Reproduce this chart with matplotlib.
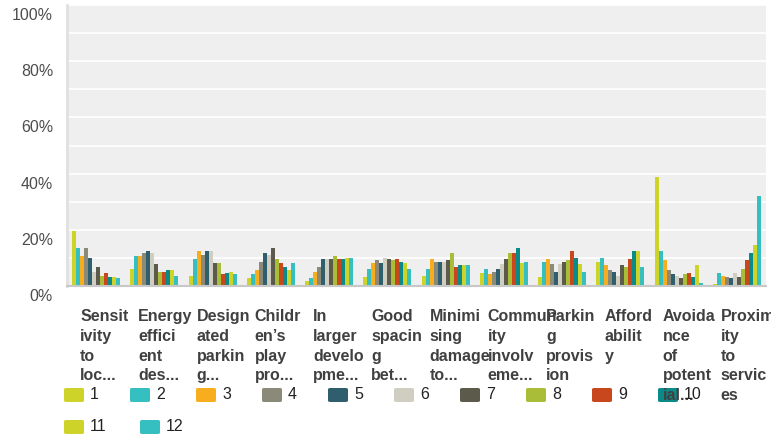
import numpy as np
import matplotlib
matplotlib.use("Agg")
import matplotlib.pyplot as plt
from matplotlib.patches import FancyBboxPatch
from matplotlib.transforms import ScaledTranslation

plt.rcParams['font.family'] = ['Liberation Sans', 'DejaVu Sans']

# category labels, wrapped/truncated the same way as the original export
categories = [
    "Sensit\nivity\nto\nloc...",
    "Energy\neffici\nent\ndes...",
    "Design\nated\nparkin\ng...",
    "Childr\nen\u2019s\nplay\npro...",
    "In\nlarger\ndevelo\npme...",
    "Good\nspacin\ng\nbet...",
    "Minimi\nsing\ndamage\nto...",
    "Commun\nity\ninvolv\neme...",
    "Parkin\ng\nprovis\nion",
    "Afford\nabilit\ny",
    "Avoida\nnce\nof\npotent\nial...",
    "Proxim\nity\nto\nservic\nes",
]

series_labels = ["1", "2", "3", "4", "5", "6", "7", "8", "9", "10", "11", "12"]

# percentage of responses per rating (one list per rating, in category order)
r1 = [19.7, 6.2, 3.7, 2.7, 1.9, 3.3, 3.7, 4.7, 3.3, 8.6, 38.7, 0.8]
r2 = [13.6, 10.8, 9.7, 4.4, 2.7, 6.2, 6.2, 6.2, 8.6, 10.1, 12.6, 4.7]
r3 = [10.8, 10.8, 12.3, 5.8, 5.1, 8.3, 9.7, 4.4, 9.7, 7.3, 9.4, 3.7]
r4 = [13.4, 11.9, 11.2, 8.6, 6.9, 9.4, 8.6, 5.1, 7.7, 5.8, 5.8, 3.3]
r5 = [10.1, 12.3, 12.3, 11.9, 9.7, 8.3, 8.6, 6.2, 5.1, 5.1, 4.4, 2.7]
r6 = [5.1, 11.9, 12.3, 11.2, 9.7, 10.1, 8.6, 7.7, 7.7, 3.7, 3.7, 4.7]
r7 = [6.9, 7.7, 8.3, 13.6, 9.7, 9.7, 9.4, 9.7, 8.6, 7.5, 2.7, 3.3]
r8 = [3.7, 5.1, 8.3, 9.7, 10.8, 9.4, 11.9, 11.9, 9.4, 6.9, 4.4, 6.2]
r9 = [4.7, 5.1, 4.4, 8.3, 9.7, 9.7, 6.9, 11.9, 12.6, 9.7, 4.7, 9.4]
r10 = [3.3, 5.8, 4.7, 6.9, 9.7, 8.6, 7.3, 13.4, 10.1, 12.3, 3.3, 11.9]
r11 = [3.3, 5.8, 5.1, 5.8, 10.1, 8.3, 7.5, 8.3, 7.7, 12.3, 7.3, 14.7]
r12 = [2.7, 3.7, 4.4, 8.3, 10.1, 6.2, 7.5, 8.6, 5.1, 6.9, 1.2, 31.9]
series_values = [r1, r2, r3, r4, r5, r6, r7, r8, r9, r10, r11, r12]

colors = ["#cdd328", "#35bfc0", "#f8ad1f", "#8b8a78", "#2f5f6d", "#d0cec0",
          "#5c5a4a", "#a9bd38", "#c9471d", "#0b8a8a", "#cdd328", "#35bfc0"]

W, H = 771, 439
fig = plt.figure(figsize=(W / 100, H / 100), dpi=100)
ax = fig.add_axes([67 / W, 1 - 287 / H, (766 - 67) / W, (287 - 6) / H])
ax.set_facecolor("#efefef")
ax.set_zorder(3)

x = np.arange(len(categories))
n = len(series_values)
bw = 0.0686
for k, vals in enumerate(series_values):
    ax.bar(x + (k - (n - 1) / 2) * bw, vals, width=bw, color=colors[k],
           linewidth=0, zorder=3)

ax.set_xlim(-0.5, len(categories) - 0.5)
ax.set_ylim(0, 100)
ax.set_yticks(np.arange(0, 101, 10))
ax.set_yticklabels([f"{v}%" if v % 20 == 0 else "" for v in range(0, 101, 10)],
                   fontsize=11.5, color="#4d4d4d")
ax.tick_params(axis="y", length=0, pad=10)
for lab in ax.get_yticklabels():
    lab.set_transform(lab.get_transform() + ScaledTranslation(0, -8 / 100, fig.dpi_scale_trans))
ax.set_xticks([])
ax.grid(axis="y", color="white", linewidth=1.2, zorder=1)
for s in ["top", "right"]:
    ax.spines[s].set_visible(False)
ax.spines["left"].set_color("#e0e0e0")
ax.spines["left"].set_linewidth(2)
ax.spines["bottom"].set_color("#c8c8c8")
ax.spines["bottom"].set_linewidth(1.5)
ax.spines["bottom"].set_zorder(4)

# wrapped category labels under the plot
shift = ScaledTranslation(0, -22 / 100, fig.dpi_scale_trans)
for i, lab in enumerate(categories):
    ax.text(i - 0.275, 0, lab, transform=ax.get_xaxis_transform() + shift,
            ha="left", va="top", fontsize=11.5, fontweight="bold",
            color="#404040", linespacing=1.4, clip_on=False)

# legend drawn as rounded swatches, 10 per row
for k, lab in enumerate(series_labels):
    row, col = divmod(k, 10)
    left = 63 + (66 if row == 0 else 76) * col
    top = 388 + 32 * row
    fig.patches.append(FancyBboxPatch(
        ((left + 1) / W, 1 - (top + 15) / H), 20 / W, 14 / H,
        boxstyle="round,pad=0,rounding_size=0.003", transform=fig.transFigure,
        facecolor=colors[k], edgecolor="none", zorder=1))
    fig.text((left + 27) / W, 1 - (top + 7) / H, lab, ha="left", va="center",
             fontsize=11.5, color="#222222")

fig.savefig("out.png", dpi=100)
